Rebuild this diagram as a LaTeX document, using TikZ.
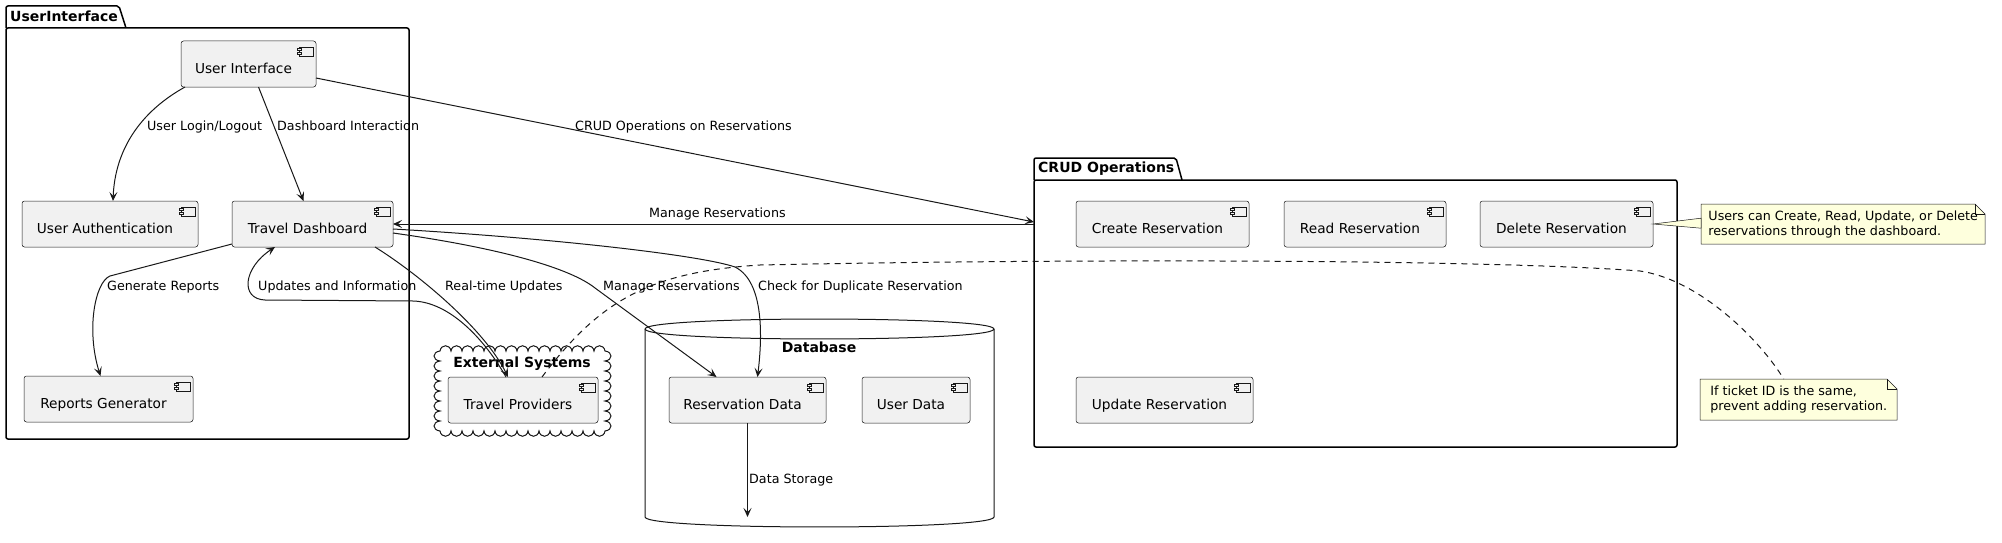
\documentclass[tikz,border=0pt]{standalone}
\usepackage{fontspec}
\setmainfont{DejaVu Sans}
\usetikzlibrary{arrows.meta,calc}
\definecolor{lineC}{HTML}{181818}
\definecolor{compFill}{HTML}{F1F1F1}
\definecolor{noteFill}{HTML}{FEFFDD}
\tikzset{
  pkgline/.style={draw=black, line width=1.5pt, rounded corners=2pt, fill=white},
  pkgbody/.style={draw=black, line width=1.5pt, rounded corners=2pt, fill=white, anchor=north west, inner sep=0pt, outer sep=0pt},
  pkgtitle/.style={font=\fontsize{14}{16}\selectfont\bfseries, inner sep=0pt, text height=10pt, text depth=1pt},
  comp/.style={draw=lineC, line width=0.5pt, fill=compFill, rounded corners=2.5pt, minimum height=46pt, inner sep=0pt, outer sep=0pt, anchor=north west,
    path picture={
      \draw[lineC, line width=0.5pt, fill=compFill, sharp corners] ([xshift=-17pt,yshift=-6pt]path picture bounding box.north east) rectangle ++(14pt,-9pt);
      \draw[lineC, line width=0.5pt, fill=compFill, sharp corners] ([xshift=-19pt,yshift=-7.5pt]path picture bounding box.north east) rectangle ++(4pt,-2pt);
      \draw[lineC, line width=0.5pt, fill=compFill, sharp corners] ([xshift=-19pt,yshift=-11pt]path picture bounding box.north east) rectangle ++(4pt,-2pt);
    }},
  comptxt/.style={font=\fontsize{13.7}{16}\selectfont, inner sep=0pt, text height=10pt, text depth=1pt, xshift=-5pt, yshift=-5pt},
  lbl/.style={font=\fontsize{12.7}{15}\selectfont, inner sep=0pt, text height=9.5pt, text depth=1pt, anchor=west},
  conn/.style={draw=lineC, line width=1pt, -{Stealth[length=9pt,width=8pt,inset=4pt]}},
  dashline/.style={draw=lineC, line width=1pt, dash pattern=on 6pt off 5pt},
  noteshape/.style={draw=lineC, line width=0.5pt, fill=noteFill},
  notetxt/.style={font=\fontsize{12.7}{15}\selectfont, align=left, inner sep=0pt, anchor=north west},
  shapeline/.style={draw=lineC, line width=1pt, fill=white},
}
\begin{document}
\begin{tikzpicture}[x=1pt,y=-1pt]
\useasboundingbox (0,0) rectangle (2002,543);

% ---- packages ----
\draw[pkgline] (6,28) -- (6,6) -- (119,6) -- (126,28);
\node[pkgbody, minimum width=403pt, minimum height=411pt] (uipkg) at (6,28) {};
\node[pkgtitle, anchor=west] (uititle) at (10,17) {UserInterface};

\draw[pkgline] (1034,180) -- (1034,158) -- (1176,158) -- (1182,180);
\node[pkgbody, minimum width=643pt, minimum height=267pt] (crud) at (1034,180) {};
\node[pkgtitle, anchor=west] (crudtitle) at (1038,168) {CRUD Operations};

% ---- cloud ----
\draw[shapeline] (440,351)
  foreach \i in {0,...,14} { .. controls ({440+11*\i+1},344) and ({440+11*\i+10},344) .. ({440+11*\i+11},351) }
  foreach \j in {0,...,7} { .. controls (613,{351+10*\j+1}) and (613,{351+10*\j+9}) .. (605,{351+10*\j+10}) }
  foreach \i in {0,...,14} { .. controls ({605-11*\i-1},438) and ({605-11*\i-10},438) .. ({605-11*\i-11},431) }
  foreach \j in {0,...,7} { .. controls (432,{431-10*\j-1}) and (432,{431-10*\j-9}) .. (440,{431-10*\j-10}) }
  -- cycle;
\node[pkgtitle] (estitle) at (522,363) {External Systems};

% ---- database ----
\draw[shapeline] (645,329) -- (645,517) .. controls (645,530.3) and (994,530.3) .. (994,517) -- (994,329) .. controls (994,315.7) and (645,315.7) .. (645,329) -- cycle;
\draw[shapeline, fill=none] (645,329) .. controls (645,342.3) and (994,342.3) .. (994,329);
\node[pkgtitle] (dbtitle) at (819,348) {Database};
\coordinate (dsend) at (747.5,517);

% ---- components ----
\node[comp, minimum width=135pt, label={[comptxt]center:User Interface}] (ui) at (181,41) {};
\node[comp, minimum width=176pt, label={[comptxt]center:User Authentication}] (ua) at (22,201) {};
\node[comp, minimum width=161pt, label={[comptxt]center:Travel Dashboard}] (td) at (232,201) {};
\node[comp, minimum width=169pt, label={[comptxt]center:Reports Generator}] (rg) at (24,376) {};
\node[comp, minimum width=150pt, label={[comptxt]center:Travel Providers}] (tp) at (448,377) {};
\node[comp, minimum width=157pt, label={[comptxt]center:Reservation Data}] (rd) at (669,377) {};
\node[comp, minimum width=108pt, label={[comptxt]center:User Data}] (ud) at (862,377) {};
\node[comp, minimum width=173pt, label={[comptxt]center:Create Reservation}] (cr) at (1076,201) {};
\node[comp, minimum width=162pt, label={[comptxt]center:Read Reservation}] (rr) at (1284,201) {};
\node[comp, minimum width=173pt, label={[comptxt]center:Delete Reservation}] (dr) at (1480,201) {};
\node[comp, minimum width=177pt, label={[comptxt]center:Update Reservation}] (ur) at (1076,377) {};

% ---- notes ----
\draw[noteshape] (1701,204) -- (1975,204) -- (1985,214) -- (1985,244) -- (1701,244) -- cycle;
\draw[lineC, line width=0.5pt] (1975,204) -- (1975,214) -- (1985,214);
\node[notetxt, minimum width=284pt, minimum height=40pt] (n1) at (1701,204) {Users can Create, Read, Update, or Delete\\reservations through the dashboard.};
\draw[noteshape] (1700,379) -- (1887,379) -- (1897,389) -- (1897,420) -- (1700,420) -- cycle;
\draw[lineC, line width=0.5pt] (1887,379) -- (1887,389) -- (1897,389);
\node[notetxt, minimum width=197pt, minimum height=41pt] (n2) at (1700,379) {If ticket ID is the same,\\prevent adding reservation.};
\draw[noteshape] (dr.east) -- ($(n1.west)+(0,-6)$) -- ($(n1.west)+(0,4)$) -- cycle;

% ---- connectors ----
\draw[conn] ($(ui.south west)+(4,0)$) .. controls (140,112) and (115,150) .. ($(ua.north)+(3,0)$);
\draw[conn] ($(ui.south)+(10,0)$) -- ($(td.north)+(-9,0)$);
\draw[conn] ($(ui.east)+(0,14)$) -- ($(crud.north west)+(0,42)$);
\draw[conn] ($(crud.north west)+(0,44)$) -- (td.east);
\draw[conn] ($(td.south east)+(-18,0)$) .. controls (420,275) and (485,330) .. ($(tp.north)+(-15,0)$);
\draw[conn] ($(tp.north)+(-17,0)$) .. controls (485,340) and (450,302) .. (413,301) -- (265,300) .. controls (240,299) and (243,268) .. ($(td.south west)+(43,0)$);
\draw[conn] ($(td.east)+(0,9)$) .. controls (500,248) and (570,268) .. (595,288) -- ($(rd.north)+(-31,0)$);
\draw[conn] ($(td.east)+(0,5)$) .. controls (550,238) and (700,255) .. (735,267) .. controls (765,282) and (762,340) .. ($(rd.north)+(10,0)$);
\draw[conn] ($(td.south west)+(0,-3)$) -- (110,276) .. controls (95,282) and (86,330) .. ($(rg.north)+(-8,0)$);
\draw[conn] (rd.south) -- (dsend);
\draw[dashline] ($(tp.north)+(19,0)$) .. controls (600,300) and (650,272) .. (760,265) .. controls (1100,258) and (1500,260) .. (1640,271) .. controls (1700,280) and (1760,340) .. ($(n2.north)+(-15,0)$);

% ---- labels ----
\node[lbl] (l1) at (147,126) {User Login/Logout};
\node[lbl] (l2) at (277,126) {Dashboard Interaction};
\node[lbl] (l3) at (575,126) {CRUD Operations on Reservations};
\node[lbl] (l4) at (649,213) {Manage Reservations};
\node[lbl] (l5) at (445,286) {Real-time Updates};
\node[lbl] (l6) at (258,286) {Updates and Information};
\node[lbl] (l7) at (603,286) {Manage Reservations};
\node[lbl] (l8) at (758,286) {Check for Duplicate Reservation};
\node[lbl] (l9) at (107,286) {Generate Reports};
\node[lbl] (l10) at (749,479) {Data Storage};
\end{tikzpicture}
\end{document}
